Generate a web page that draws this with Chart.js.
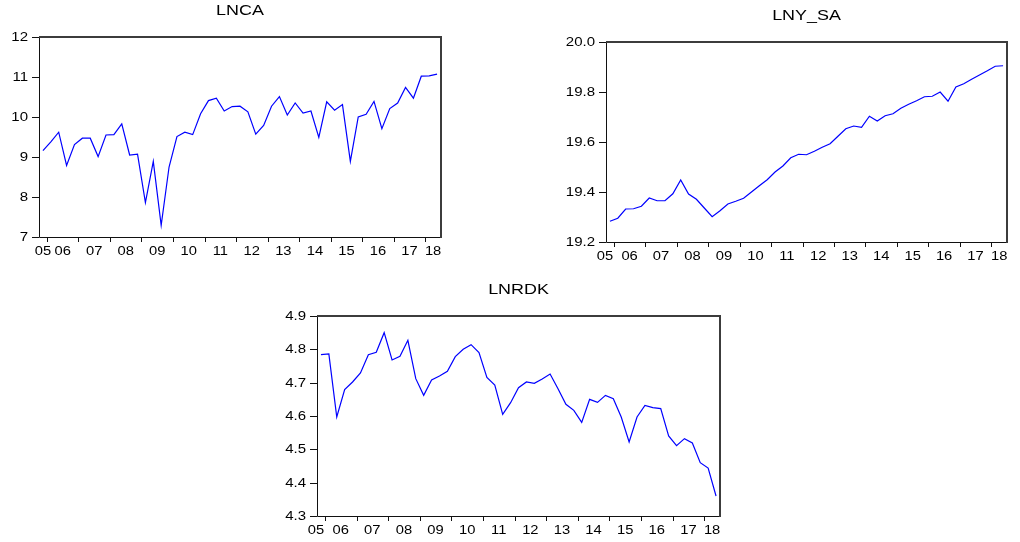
<!DOCTYPE html>
<html><head><meta charset="utf-8">
<script src="https://cdn.jsdelivr.net/npm/chart.js@4.4.1/dist/chart.umd.min.js"></script>
<style>
html,body{margin:0;padding:0;background:#fff;width:1020px;height:542px;overflow:hidden;}
body{position:relative;}
canvas{position:absolute;}
</style></head><body>
<canvas id="c1" width="460" height="262" style="left:0px;top:0px"></canvas>
<canvas id="c2" width="480" height="265" style="left:540px;top:0px"></canvas>
<canvas id="c3" width="480" height="267" style="left:260px;top:275px"></canvas>
<script>
const quarters = [
 '2005Q4',
 '2006Q1','2006Q2','2006Q3','2006Q4',
 '2007Q1','2007Q2','2007Q3','2007Q4',
 '2008Q1','2008Q2','2008Q3','2008Q4',
 '2009Q1','2009Q2','2009Q3','2009Q4',
 '2010Q1','2010Q2','2010Q3','2010Q4',
 '2011Q1','2011Q2','2011Q3','2011Q4',
 '2012Q1','2012Q2','2012Q3','2012Q4',
 '2013Q1','2013Q2','2013Q3','2013Q4',
 '2014Q1','2014Q2','2014Q3','2014Q4',
 '2015Q1','2015Q2','2015Q3','2015Q4',
 '2016Q1','2016Q2','2016Q3','2016Q4',
 '2017Q1','2017Q2','2017Q3','2017Q4',
 '2018Q1','2018Q2'
];
const yearLabels = ['05','06','07','08','09','10','11','12','13','14','15','16','17','18'];

const lnca = [9.16, 9.38, 9.62, 8.79, 9.31, 9.47, 9.47, 9.01, 9.55, 9.56,
              9.83, 9.05, 9.07, 7.86, 8.89, 7.29, 8.75, 9.51, 9.62, 9.56,
              10.08, 10.41, 10.47, 10.15, 10.26, 10.27, 10.13, 9.57, 9.79, 10.27,
              10.51, 10.05, 10.35, 10.10, 10.15, 9.49, 10.38, 10.17, 10.31, 8.89,
              10.00, 10.07, 10.39, 9.71, 10.21, 10.35, 10.74, 10.47, 11.02, 11.03, 11.07];
const lnySa = [19.283, 19.295, 19.332, 19.333, 19.343, 19.376, 19.365, 19.365, 19.393, 19.448,
               19.392, 19.371, 19.336, 19.301, 19.325, 19.352, 19.363, 19.375, 19.400, 19.425,
               19.449, 19.480, 19.504, 19.537, 19.551, 19.549, 19.563, 19.579, 19.593, 19.623,
               19.653, 19.664, 19.659, 19.703, 19.684, 19.705, 19.713, 19.735, 19.751, 19.765,
               19.781, 19.783, 19.800, 19.763, 19.820, 19.833, 19.851, 19.868, 19.885, 19.903, 19.905];
const lnrdk = [4.784, 4.786, 4.597, 4.679, 4.702, 4.729, 4.784, 4.791, 4.850, 4.768,
               4.779, 4.827, 4.712, 4.662, 4.708, 4.720, 4.734, 4.778, 4.800, 4.814,
               4.790, 4.716, 4.693, 4.605, 4.640, 4.685, 4.702, 4.698, 4.711, 4.726,
               4.682, 4.635, 4.617, 4.581, 4.650, 4.641, 4.662, 4.652, 4.597, 4.522,
               4.597, 4.632, 4.625, 4.622, 4.540, 4.511, 4.532, 4.519, 4.460, 4.444, 4.360];

const lncaTicks = [7, 8, 9, 10, 11, 12];
const lnySaTicks = [19.2, 19.4, 19.6, 19.8, 20.0];
const lnrdkTicks = [4.3, 4.4, 4.5, 4.6, 4.7, 4.8, 4.9];

const FONT = '"Liberation Sans", Arial, Helvetica, sans-serif';

function drawStretched(ctx, text, x, y, align, baseline, sx) {
  ctx.save();
  ctx.translate(x, y);
  ctx.scale(sx, 1);
  ctx.textAlign = align;
  ctx.textBaseline = baseline;
  ctx.fillText(text, 0, 0);
  ctx.restore();
}

const eviewsPlugin = {
  id: 'eviews',
  afterDraw(chart, args, opts) {
    const ctx = chart.ctx, a = chart.chartArea;
    const xs = chart.scales.x, ys = chart.scales.y;
    const cats = chart.data.labels;
    ctx.save();
    // frame
    ctx.strokeStyle = '#111';
    ctx.lineWidth = 1;
    ctx.beginPath();
    ctx.moveTo(a.left + 0.5, a.top);
    ctx.lineTo(a.left + 0.5, a.bottom + 0.5);
    ctx.lineTo(a.right, a.bottom + 0.5);
    ctx.stroke();
    ctx.strokeStyle = '#3c3c3c';
    ctx.lineWidth = 2;
    ctx.beginPath();
    ctx.moveTo(a.left, a.top);
    ctx.lineTo(a.right, a.top);
    ctx.lineTo(a.right, a.bottom + 1);
    ctx.stroke();

    // y ticks + labels
    ctx.strokeStyle = '#111';
    ctx.lineWidth = 1;
    ctx.fillStyle = '#000';
    ctx.font = '12px ' + FONT;
    opts.yTicks.forEach(v => {
      const y = Math.round(ys.getPixelForValue(v)) + 0.5;
      ctx.beginPath();
      ctx.moveTo(a.left - 7, y);
      ctx.lineTo(a.left, y);
      ctx.stroke();
      drawStretched(ctx, v.toFixed(opts.decimals), a.left - 11, y, 'right', 'middle', 1.25);
    });

    // x ticks at year boundaries
    for (let i = 1; i < cats.length; i++) {
      if (cats[i].endsWith('Q1')) {
        const x = Math.round((xs.getPixelForValue(i - 1) + xs.getPixelForValue(i)) / 2) + 0.5;
        ctx.beginPath();
        ctx.moveTo(x, a.bottom);
        ctx.lineTo(x, a.bottom + 5);
        ctx.stroke();
      }
    }
    // x labels centered on each year's span
    ctx.font = '12.5px ' + FONT;
    yearLabels.forEach(yl => {
      const idx = [];
      cats.forEach((c, i) => { if (c.startsWith('20' + yl)) idx.push(i); });
      if (!idx.length) return;
      let cx = (xs.getPixelForValue(idx[0]) + xs.getPixelForValue(idx[idx.length - 1])) / 2;
      if (idx.length === 1) cx += opts.firstShift;
      drawStretched(ctx, yl, cx, a.bottom + 18, 'center', 'alphabetic', 1.18);
    });

    // title
    ctx.font = '14px ' + FONT;
    drawStretched(ctx, opts.title, (a.left + a.right) / 2, a.top - 22, 'center', 'alphabetic', 1.28);
    ctx.restore();
  }
};

function makeChart(id, title, values, ticks, decimals, frame, firstShift) {
  const cv = document.getElementById(id);
  return new Chart(cv, {
    type: 'line',
    data: {
      labels: quarters,
      datasets: [{
        data: values,
        borderColor: '#0000ff',
        borderWidth: 1.2,
        pointRadius: 0,
        tension: 0,
        fill: false
      }]
    },
    options: {
      responsive: false,
      animation: false,
      devicePixelRatio: 1,
      events: [],
      layout: { padding: { left: frame.l, top: frame.t, right: cv.width - frame.r, bottom: cv.height - frame.b } },
      plugins: {
        legend: { display: false },
        tooltip: { enabled: false },
        title: { display: false },
        eviews: { title: title, yTicks: ticks, decimals: decimals, firstShift: firstShift }
      },
      scales: {
        x: { type: 'category', offset: true, display: false },
        y: { type: 'linear', min: ticks[0], max: ticks[ticks.length - 1], display: false }
      }
    },
    plugins: [eviewsPlugin]
  });
}

makeChart('c1', 'LNCA', lnca, lncaTicks, 0, { l: 39, t: 37, r: 441, b: 237 }, 0);
makeChart('c2', 'LNY_SA', lnySa, lnySaTicks, 1, { l: 66, t: 42, r: 467, b: 242 }, -5);
makeChart('c3', 'LNRDK', lnrdk, lnrdkTicks, 1, { l: 57, t: 41, r: 460, b: 241 }, -5);
</script>
</body></html>
